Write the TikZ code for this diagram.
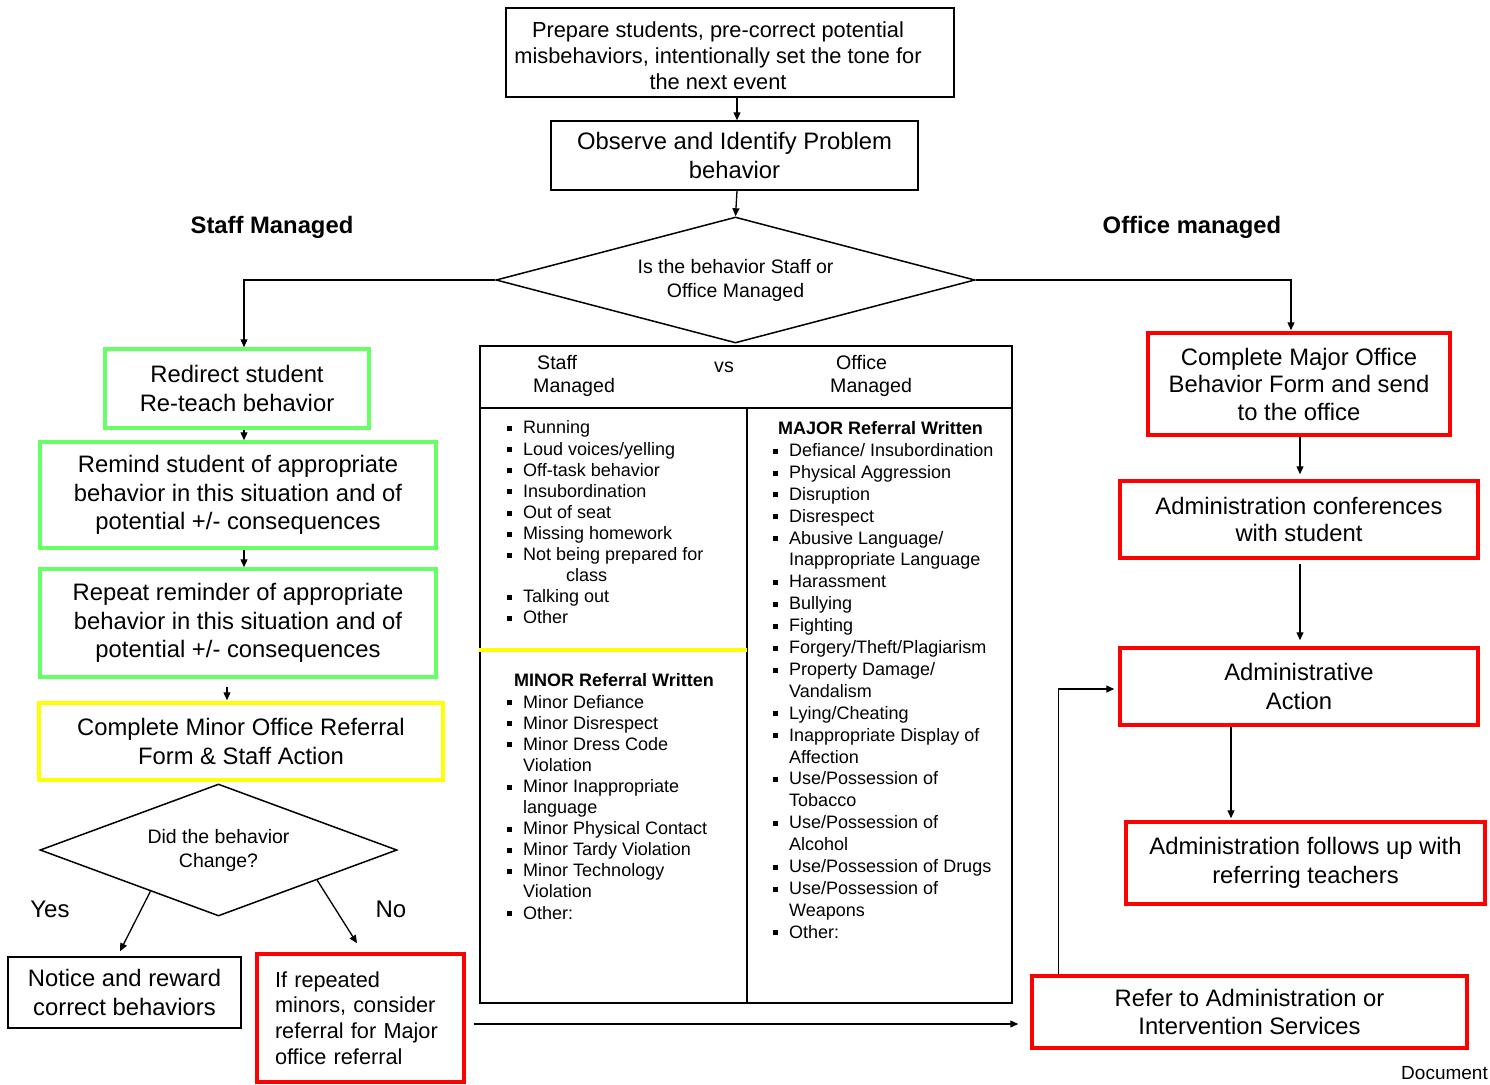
\documentclass[tikz,border=0pt]{standalone}
\usepackage{fontspec}
\setmainfont{Liberation Sans}
\usetikzlibrary{arrows.meta,shapes.geometric,calc}
\definecolor{gcol}{RGB}{102,255,102}
\definecolor{ycol}{RGB}{255,255,0}
\definecolor{rcol}{RGB}{255,0,0}
\newcommand\sqb{\rule[2.8pt]{5pt}{5pt}}
\tikzset{
  box/.style={draw, line width=1.5pt, inner sep=0pt, align=center, font=\fontsize{23.8}{28.5}\selectfont},
  gbox/.style={box, draw=gcol, line width=3.5pt},
  ybox/.style={box, draw=ycol, line width=3.5pt},
  rbox/.style={box, draw=rcol, line width=3.5pt},
  arr/.style={-{Triangle[length=8pt,width=7pt]}, line width=1.3pt},
  lbl/.style={inner sep=0pt, font=\fontsize{24}{28}\selectfont},
  lst/.style={anchor=north west, inner sep=0pt},
}
\begin{document}
\begin{tikzpicture}[x=1pt,y=-1pt]
\useasboundingbox (0,0) rectangle (1490,1084);

% top boxes
\node[box, minimum width=448, minimum height=89] (prep) at (730,52.5) {};
\node[inner sep=0pt, align=center, font=\fontsize{21.8}{26}\selectfont] (preptext) at (718,56)
  {Prepare students, pre-correct potential\\misbehaviors, intentionally set the tone for\\the next event};
\node[box, minimum width=367, minimum height=69] (observe) at (734.5,155.5)
  {Observe and Identify Problem\\behavior};
\node[draw, diamond, aspect=3.8, minimum width=479, minimum height=126, inner sep=1pt,
  line width=1.5pt, align=center, font=\fontsize{19.5}{24}\selectfont] (d1) at (735.5,280)
  {Is the behavior Staff or\\Office Managed};

\draw[arr] ($(prep.south)+(7,0)$) -- ($(observe.north)+(2.5,0)$);
\draw[arr] ($(observe.south)+(2.5,0)$) -- (d1.north);

\node[lbl, font=\fontsize{23.8}{28}\selectfont\bfseries] (staffhd) at (272,227) {Staff Managed};
\node[lbl, font=\fontsize{23.8}{28}\selectfont\bfseries] (officehd) at (1192,227) {Office managed};

% left column
\node[gbox, minimum width=264, minimum height=79] (redirect) at (237,388.5)
  {Redirect student\\Re-teach behavior};
\node[gbox, minimum width=396, minimum height=106] (remind) at (238,495)
  {Remind student of appropriate\\behavior in this situation and of\\potential +/- consequences};
\node[gbox, minimum width=396, minimum height=108] (repeat) at (238,623)
  {Repeat reminder of appropriate\\behavior in this situation and of\\potential +/- consequences};
\node[ybox, minimum width=404, minimum height=77] (minorbox) at (241,741.5)
  {Complete Minor Office Referral\\Form \& Staff Action};
\node[draw, diamond, aspect=2.7, minimum width=357, minimum height=132, inner sep=1pt,
  line width=1.5pt, align=center, font=\fontsize{19.5}{24}\selectfont] (d2) at (218.5,850)
  {Did the behavior\\Change?};
\node[box, minimum width=233, minimum height=71, font=\fontsize{23.8}{29}\selectfont] (notice) at (124.5,992.5)
  {Notice and reward\\correct behaviors};
\node[rbox, minimum width=207, minimum height=128, align=left, text width=171,
  font=\fontsize{21.7}{25.7}\selectfont] (ifrep) at (360.5,1018)
  {If repeated\\minors, consider\\referral for Major\\office referral};
\node[lbl] (yes) at (50,909) {Yes};
\node[lbl] (no) at (391,909) {No};

\draw[arr] (d1.west) -| ($(redirect.north)+(7,0)$);
\draw[arr] ($(redirect.south)+(7,0)$) -- ($(remind.north)+(6,0)$);
\draw[arr] ($(remind.south)+(6,0)$) -- ($(repeat.north)+(6,0)$);
\draw[arr] ($(repeat.south)+(-11,8)$) -- ($(minorbox.north)+(-14,-1)$);
\coordinate (yesS) at ($(d2.west)!0.62!(d2.south)$);
\coordinate (yesE) at ($(notice.north)+(-4.5,-5)$);
\draw[arr] (yesS) -- (yesE);
\coordinate (noS) at ($(d2.east)!0.45!(d2.south)$);
\coordinate (noE) at ($(ifrep.north)+(-3.5,-9)$);
\draw[arr] (noS) -- (noE);

% table
\node[draw, line width=2pt, minimum width=532, minimum height=657, inner sep=0pt] (tbl) at (746,674.5) {};
\draw[line width=2pt] (tbl.west |- 0,408) -- (tbl.east |- 0,408);
\draw[line width=2pt] (747,408) -- (747,0 |- tbl.south);
\draw[line width=3.5pt, ycol] (tbl.west |- 0,650) -- (747,650);
\node[lbl, anchor=north west, align=left, font=\fontsize{19.6}{23}\selectfont] (thstaff) at (533,355)
  {\hspace{4pt}Staff\\Managed};
\node[lbl, font=\fontsize{19.6}{23}\selectfont] (thvs) at (724,367) {vs};
\node[lbl, anchor=north west, align=left, font=\fontsize{19.6}{23}\selectfont] (thoffice) at (830,355)
  {\hspace{6pt}Office\\Managed};

\node[lst, font=\fontsize{18}{21.1}\selectfont] (staffList) at (506.5,419)
 {\begin{tabular}{@{}l@{\hspace{11.5pt}}l@{}}
 \sqb & Running\\
 \sqb & Loud voices/yelling\\
 \sqb & Off-task behavior\\
 \sqb & Insubordination\\
 \sqb & Out of seat\\
 \sqb & Missing homework\\
 \sqb & Not being prepared for\\
      & \hspace{43pt}class\\
 \sqb & Talking out\\
 \sqb & Other
 \end{tabular}};

\node[lst, font=\fontsize{18}{21.1}\selectfont] (minorList) at (506.5,672)
 {\begin{tabular}{@{}l@{\hspace{11.5pt}}l@{}}
 \multicolumn{2}{@{\hspace{7.5pt}}l@{}}{\bfseries MINOR Referral Written}\\
 \sqb & Minor Defiance\\
 \sqb & Minor Disrespect\\
 \sqb & Minor Dress Code\\
      & Violation\\
 \sqb & Minor Inappropriate\\
      & language\\
 \sqb & Minor Physical Contact\\
 \sqb & Minor Tardy Violation\\
 \sqb & Minor Technology\\
      & Violation\\
 \sqb & Other:
 \end{tabular}};

\node[lst, font=\fontsize{18}{21.9}\selectfont] (majorList) at (772.5,419)
 {\begin{tabular}{@{}l@{\hspace{11.5pt}}l@{}}
 \multicolumn{2}{@{\hspace{5.5pt}}l@{}}{\bfseries MAJOR Referral Written}\\
 \sqb & Defiance/ Insubordination\\
 \sqb & Physical Aggression\\
 \sqb & Disruption\\
 \sqb & Disrespect\\
 \sqb & Abusive Language/\\
      & Inappropriate Language\\
 \sqb & Harassment\\
 \sqb & Bullying\\
 \sqb & Fighting\\
 \sqb & Forgery/Theft/Plagiarism\\
 \sqb & Property Damage/\\
      & Vandalism\\
 \sqb & Lying/Cheating\\
 \sqb & Inappropriate Display of\\
      & Affection\\
 \sqb & Use/Possession of\\
      & Tobacco\\
 \sqb & Use/Possession of\\
      & Alcohol\\
 \sqb & Use/Possession of Drugs\\
 \sqb & Use/Possession of\\
      & Weapons\\
 \sqb & Other:
 \end{tabular}};

% right column
\node[rbox, minimum width=302, minimum height=102, font=\fontsize{23.8}{27.5}\selectfont] (major) at (1299,384)
  {Complete Major Office\\Behavior Form and send\\to the office};
\node[rbox, minimum width=358, minimum height=77, font=\fontsize{23.8}{27}\selectfont] (conf) at (1299,519.5)
  {Administration conferences\\with student};
\node[rbox, minimum width=358, minimum height=77] (action) at (1299,686.5)
  {Administrative\\Action};
\node[rbox, minimum width=359, minimum height=82] (follow) at (1305.5,863)
  {Administration follows up with\\referring teachers};
\node[rbox, minimum width=435, minimum height=72] (refer) at (1249.5,1012)
  {Refer to Administration or\\Intervention Services};

\draw[arr] (d1.east) -| ($(major.north)+(-8,-1)$);
\draw[arr] ($(major.south)+(1,0)$) -- ($(conf.north)+(1,-5)$);
\draw[arr] ($(conf.south)+(1,4)$) -- ($(action.north)+(1,-6)$);
\draw[arr] (action.south -| 1231,0) -- ($(follow.north -| 1231,0)+(0,-2)$);
\coordinate (referUp) at ($(refer.north west)+(28,0)$);
\draw[arr] (referUp) |- ($(action.west)+(-4,2.5)$);
\draw[arr] ($(ifrep.east)+(8,6)$) -- ($(refer.west |- 0,1024)+(-12,0)$);

\node[lbl, anchor=east, font=\fontsize{19}{22}\selectfont] (docnote) at (1488,1073) {Document};
\end{tikzpicture}
\end{document}
